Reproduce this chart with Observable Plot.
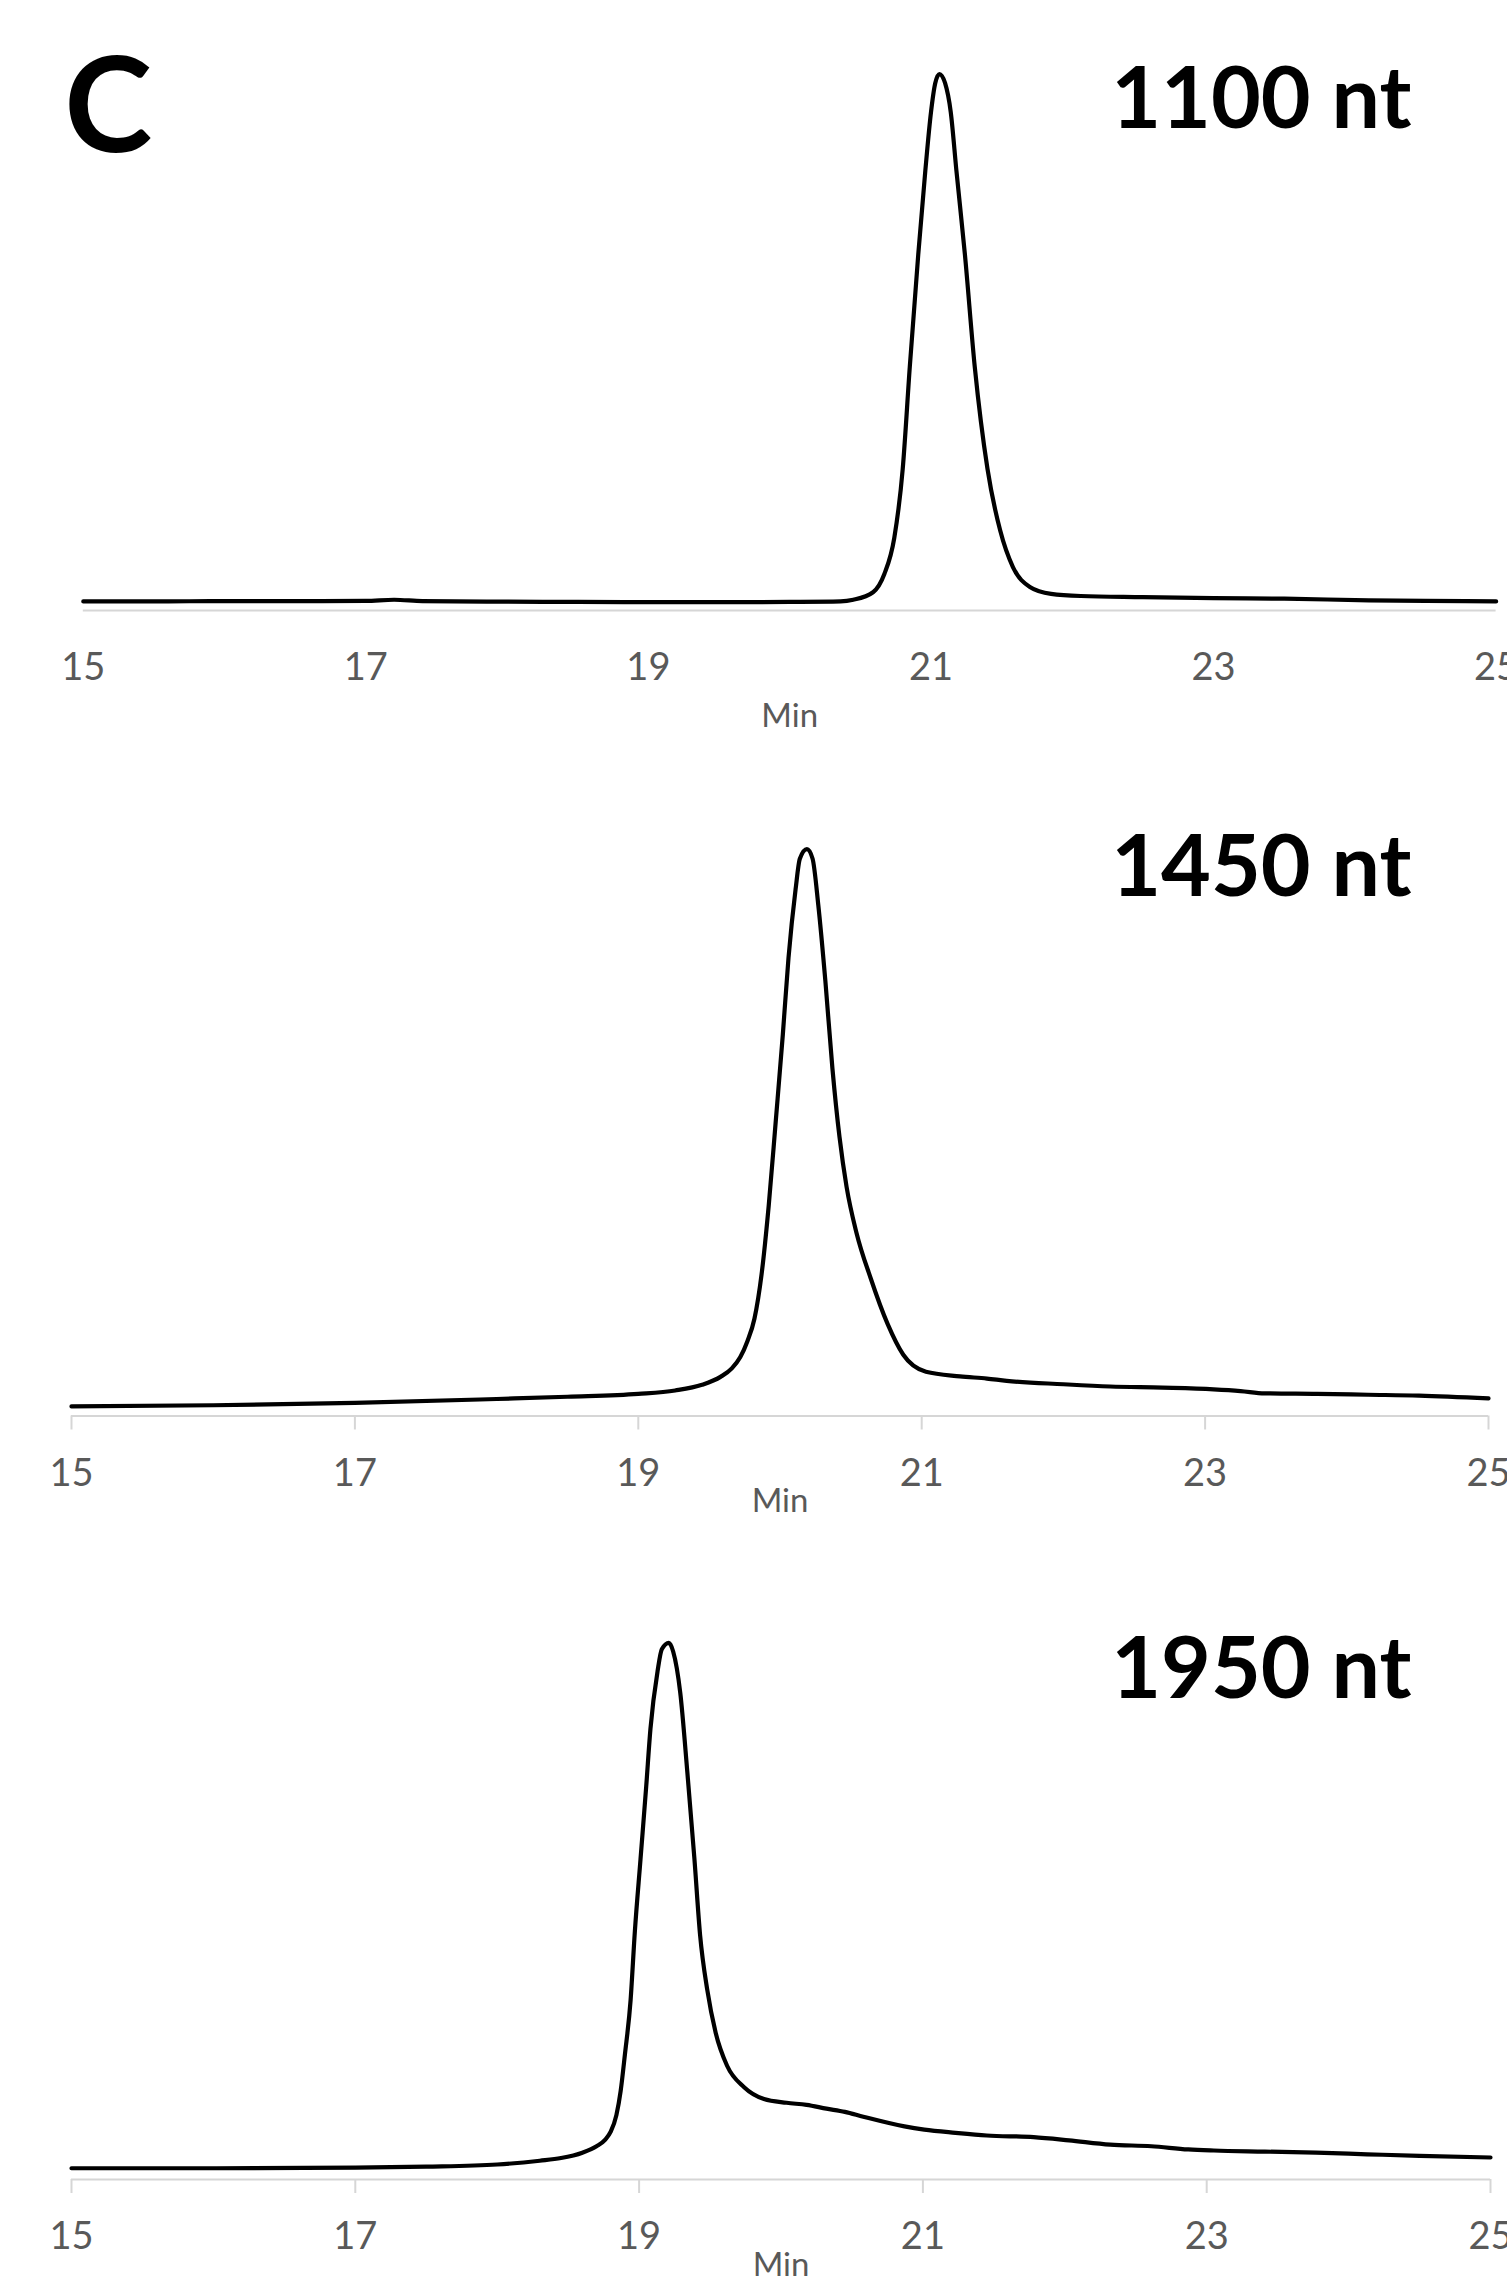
<!DOCTYPE html>
<html>
<head>
<meta charset="utf-8">
<script src="https://cdn.jsdelivr.net/npm/d3@7"></script>
<script src="https://cdn.jsdelivr.net/npm/@observablehq/plot@0.6"></script>
<style>
  html, body { margin: 0; padding: 0; background: #ffffff; }
  body { width: 1507px; height: 2276px; overflow: hidden; position: relative; font-family: Lato, "Open Sans", sans-serif; }
  .panel { position: absolute; left: 0; }
</style>
</head>
<body>
<div id="root"></div>
<script>
// ---- Data (signal in relative units, peak = 100) ----
const xTicks = [15, 17, 19, 21, 23, 25];
const axisTitle = "Min";
const panelLetter = "C";

const sizeLabels = ["1100 nt", "1450 nt", "1950 nt"];

const time1100 = [15.0, 15.5, 16.0, 16.5, 17.0, 17.2, 17.4, 18.0, 18.5, 19.0, 19.5, 20.0, 20.36, 20.45, 20.59, 20.67, 20.74, 20.80, 20.85, 20.91, 20.96, 21.00, 21.03, 21.06, 21.10, 21.14, 21.18, 21.24, 21.31, 21.40, 21.49, 21.58, 21.70, 21.85, 22.06, 22.5, 23.0, 23.5, 24.1, 24.5, 25.0];
const signal1100 = [1.7, 1.7, 1.75, 1.75, 1.8, 2.0, 1.75, 1.65, 1.6, 1.55, 1.55, 1.6, 1.7, 2.0, 3.4, 6.8, 13.5, 26.4, 45.4, 66.4, 82.0, 92.9, 98.3, 100, 98.3, 92.9, 82.0, 66.4, 45.4, 26.4, 14.9, 8.1, 4.4, 3.1, 2.7, 2.5, 2.3, 2.2, 1.9, 1.8, 1.7];

const time1450 = [15.0, 16.0, 17.0, 18.0, 18.5, 19.0, 19.26, 19.45, 19.58, 19.66, 19.72, 19.77, 19.82, 19.87, 19.92, 19.97, 20.02, 20.06, 20.11, 20.14, 20.19, 20.23, 20.27, 20.32, 20.37, 20.42, 20.47, 20.54, 20.64, 20.76, 20.87, 21.03, 21.27, 21.46, 21.6, 22.0, 22.33, 22.7, 23.06, 23.25, 23.42, 23.79, 24.15, 24.51, 25.0];
const signal1450 = [1.7, 1.9, 2.3, 3.0, 3.4, 3.9, 4.5, 5.5, 6.9, 8.4, 10.4, 13.2, 17.2, 25.0, 37.0, 52.0, 67.3, 80.8, 92.9, 98.3, 100, 98.3, 90.2, 76.8, 61.3, 49.2, 40.4, 32.3, 24.3, 16.2, 10.8, 7.8, 7.0, 6.6, 6.2, 5.6, 5.2, 5.0, 4.7, 4.4, 4.0, 3.9, 3.75, 3.6, 3.1];

const time1950 = [15.0, 16.0, 17.0, 17.5, 18.0, 18.3, 18.45, 18.6, 18.7, 18.76, 18.8, 18.84, 18.87, 18.90, 18.94, 18.97, 19.01, 19.05, 19.08, 19.13, 19.16, 19.21, 19.24, 19.29, 19.34, 19.39, 19.43, 19.48, 19.54, 19.62, 19.74, 19.88, 20.04, 20.18, 20.32, 20.45, 20.58, 20.87, 21.01, 21.23, 21.45, 21.78, 22.03, 22.32, 22.61, 22.87, 23.05, 23.41, 23.77, 24.13, 24.50, 25.0];
const signal1950 = [2.1, 2.1, 2.2, 2.4, 2.8, 3.5, 4.0, 5.0, 6.2, 7.4, 8.9, 12.0, 16.5, 23.3, 33.4, 46.2, 59.7, 73.2, 84.0, 94.7, 98.8, 100, 98.4, 90.7, 75.9, 59.7, 45.5, 35.4, 27.3, 21.2, 17.2, 15.0, 14.3, 13.9, 13.2, 12.6, 11.7, 9.9, 9.3, 8.7, 8.2, 7.9, 7.3, 6.5, 6.2, 5.6, 5.4, 5.2, 5.0, 4.7, 4.4, 4.1];

// ---- Layout (pixels on the page) ----
const W = 1507;
const layout = [
  { time: time1100, signal: signal1100, label: sizeLabels[0], top: 0,    height: 745, x0: 82.8, x1: 1495.6, axisY: 610,    peakY: 73.6,   tickSize: 0,  minDy: 106, tagDx: -84.6, tagDy: 53.4, letter: true },
  { time: time1450, signal: signal1450, label: sizeLabels[1], top: 745,  height: 775, x0: 71,   x1: 1488,   axisY: 1415.5, peakY: 848.6,  tickSize: 14, minDy: 85.5, tagDx: -77,  tagDy: 47,   letter: false },
  { time: time1950, signal: signal1950, label: sizeLabels[2], top: 1520, height: 756, x0: 71,   x1: 1490,   axisY: 2179,   peakY: 1642.4, tickSize: 14, minDy: 86,  tagDx: -79,   tagDy: 55,   letter: false }
];

const root = document.getElementById("root");
const FONT = "Lato, 'Open Sans', sans-serif";

for (const p of layout) {
  const data = p.time.map((t, i) => ({ t, v: p.signal[i] }));
  const localAxis = p.axisY - p.top;
  const localPeak = p.peakY - p.top;
  const marks = [
    Plot.ruleY([0], { stroke: "#d6d6d6", strokeWidth: 2 }),
    Plot.axisX({
      ticks: xTicks,
      tickSize: p.tickSize,
      tickPadding: 43 - p.tickSize,
      tickFormat: d => String(d),
      fontSize: 38,
      fill: "#595959",
      stroke: "#d6d6d6",
      strokeWidth: 2,
      label: null
    }),
    Plot.text([axisTitle], { text: d => d, frameAnchor: "bottom", dy: p.minDy, lineAnchor: "middle", fontSize: 33, fill: "#595959" }),
    Plot.line(data, { x: "t", y: "v", curve: "monotone-x", stroke: "#000000", strokeWidth: 4.2, strokeLinejoin: "round", strokeLinecap: "round" }),
    Plot.text([p.label], { text: d => d, frameAnchor: "top-right", dx: p.tagDx, dy: p.tagDy, textAnchor: "end", lineAnchor: "bottom", fontSize: 86, fontWeight: "bold", fill: "#000000" })
  ];
  if (p.letter) {
    marks.push(Plot.text([panelLetter], { text: d => d, frameAnchor: "top-left", dx: -19, dy: 78, textAnchor: "start", lineAnchor: "bottom", fontSize: 133, fontWeight: "bold", fill: "#000000" }));
  }
  const chart = Plot.plot({
    width: W,
    height: p.height,
    marginLeft: p.x0,
    marginRight: W - p.x1,
    marginTop: localPeak,
    marginBottom: p.height - localAxis,
    x: { domain: [15, 25] },
    y: { domain: [0, 100], axis: null },
    style: { fontFamily: FONT, background: "transparent", overflow: "visible", maxWidth: "none" },
    marks
  });
  const wrap = document.createElement("div");
  wrap.className = "panel";
  wrap.style.top = p.top + "px";
  wrap.appendChild(chart);
  root.appendChild(wrap);
}
</script>
</body>
</html>
